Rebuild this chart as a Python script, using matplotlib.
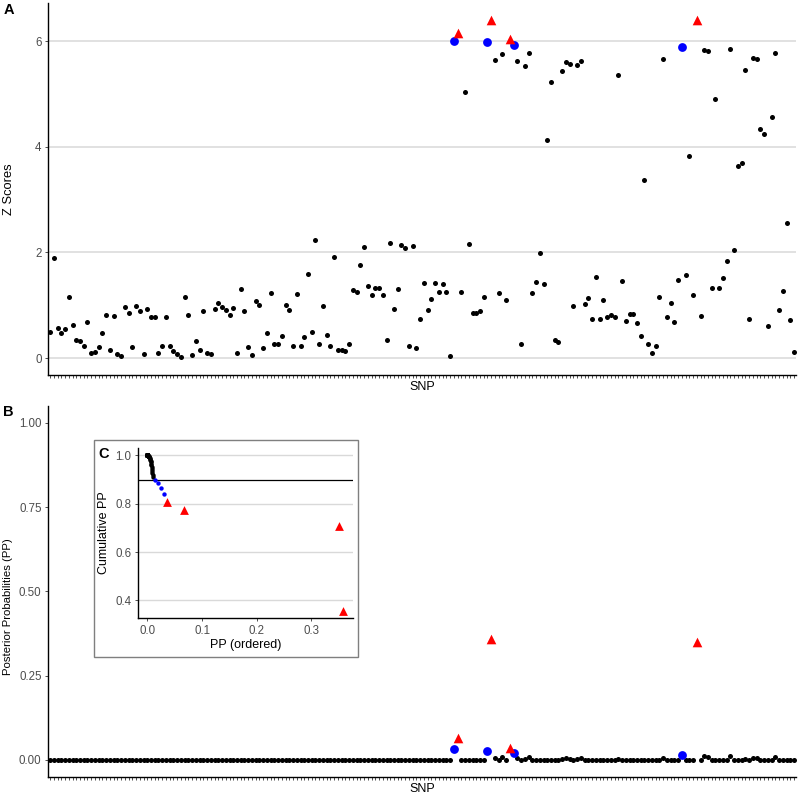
import matplotlib
matplotlib.use("Agg")
import matplotlib.pyplot as plt
import numpy as np
from matplotlib.patches import Rectangle

plt.rcParams["font.family"] = ["Liberation Sans", "DejaVu Sans"]

# Z scores for the 200 SNPs, read left to right
z_scores = [
    0.49, 1.90, 0.56, 0.47, 0.54, 1.15, 0.62, 0.34, 0.32, 0.23,
    0.68, 0.09, 0.12, 0.20, 0.47, 0.82, 0.15, 0.80, 0.08, 0.03,
    0.96, 0.86, 0.21, 0.98, 0.89, 0.08, 0.92, 0.77, 0.77, 0.09,
    0.22, 0.78, 0.23, 0.14, 0.07, 0.02, 1.15, 0.82, 0.05, 0.32,
    0.16, 0.89, 0.09, 0.08, 0.93, 1.05, 0.97, 0.90, 0.81, 0.94,
    0.09, 1.31, 0.89, 0.21, 0.05, 1.07, 1.01, 0.18, 0.47, 1.24,
    0.26, 0.26, 0.41, 1.00, 0.91, 0.23, 1.21, 0.22, 0.39, 1.59,
    0.50, 2.24, 0.27, 0.99, 0.44, 0.22, 1.91, 0.15, 0.15, 0.13,
    0.27, 1.28, 1.25, 1.77, 2.10, 1.37, 1.20, 1.32, 1.32, 1.19,
    0.34, 2.18, 0.92, 1.30, 2.14, 2.08, 0.22, 2.12, 0.18, 0.74,
    1.42, 0.91, 1.11, 1.42, 1.25, 1.40, 1.25, 0.04, 6.01, 6.15,
    1.25, 5.03, 2.16, 0.86, 0.85, 0.89, 1.15, 5.98, 6.40, 5.64,
    1.23, 5.76, 1.10, 6.03, 5.93, 5.63, 0.27, 5.53, 5.77, 1.24,
    1.44, 1.99, 1.41, 4.13, 5.23, 0.34, 0.30, 5.44, 5.61, 5.57,
    0.98, 5.54, 5.62, 1.03, 1.14, 0.73, 1.54, 0.74, 1.10, 0.78,
    0.81, 0.78, 5.35, 1.45, 0.70, 0.84, 0.83, 0.66, 0.42, 3.37,
    0.27, 0.09, 0.22, 1.15, 5.66, 0.77, 1.04, 0.69, 1.47, 5.89,
    1.57, 3.82, 1.20, 6.40, 0.80, 5.84, 5.82, 1.33, 4.91, 1.33,
    1.52, 1.83, 5.85, 2.04, 3.63, 3.69, 5.46, 0.74, 5.68, 5.66,
    4.34, 4.25, 0.61, 4.56, 5.78, 0.91, 1.26, 2.56, 0.72, 0.11,
]

# posterior probabilities for the same SNPs
pp = [
    0, 0, 0, 0, 0, 0, 0, 0, 0, 0, 0, 0, 0, 0, 0, 0, 0, 0, 0, 0,
    0, 0, 0, 0, 0, 0, 0, 0, 0, 0, 0, 0, 0, 0, 0, 0, 0, 0, 0, 0,
    0, 0, 0, 0, 0, 0, 0, 0, 0, 0, 0, 0, 0, 0, 0, 0, 0, 0, 0, 0,
    0, 0, 0, 0, 0, 0, 0, 0, 0, 0, 0, 0, 0, 0, 0, 0, 0, 0, 0, 0,
    0, 0, 0, 0, 0, 0, 0, 0, 0, 0, 0, 0, 0, 0, 0, 0, 0, 0, 0, 0,
    0, 0, 0, 0, 0, 0, 0, 0, 0.031, 0.066,
    0, 0.0005, 0, 0, 0, 0, 0, 0.025, 0.358, 0.006,
    0, 0.008, 0, 0.035, 0.019, 0.006, 0, 0.002, 0.009, 0,
    0, 0, 0, 0, 0.0005, 0, 0, 0.001, 0.004, 0.003,
    0, 0.002, 0.004, 0, 0, 0, 0, 0, 0, 0,
    0, 0, 0.001, 0, 0, 0, 0, 0, 0, 0,
    0, 0, 0, 0, 0.006, 0, 0, 0, 0, 0.014,
    0, 0, 0, 0.350, 0, 0.010, 0.009, 0, 0, 0,
    0, 0, 0.011, 0, 0, 0, 0.001, 0, 0.006, 0.004,
    0, 0, 0, 0, 0.008, 0, 0, 0, 0, 0,
]

red_snps = [109, 118, 123, 173]
blue_snps = [108, 117, 124, 169]

z = np.array(z_scores)
p = np.array(pp)
snp = np.arange(len(z))
black = np.ones(len(z), dtype=bool)
black[red_snps] = False
black[blue_snps] = False

GRID = "#D9D9D9"
TICKC = "#333333"
LABC = "#4D4D4D"


def classic(ax):
    for s in ["top", "right"]:
        ax.spines[s].set_visible(False)
    for s in ["left", "bottom"]:
        ax.spines[s].set_linewidth(1.0)
    ax.tick_params(axis="y", length=2.5, width=0.6, color=TICKC,
                   labelsize=8.3, labelcolor=LABC, pad=2)
    ax.set_axisbelow(True)


fig = plt.figure(figsize=(8, 7.97), dpi=100)

# panel A: z scores
axA = fig.add_axes([0.0598, 0.5296, 0.9355, 0.4666])
axA.scatter(snp[black], z[black], s=13, color="black", linewidths=0, zorder=3)
axA.scatter(snp[blue_snps], z[blue_snps], s=40, color="#0000FF", linewidths=0, zorder=4)
axA.scatter(snp[red_snps], z[red_snps], s=48, marker="^", color="#FF0000",
            linewidths=0, zorder=5)
zmax = z.max()
axA.set_ylim(-0.05 * zmax, 1.05 * zmax)
axA.set_xlim(-0.6, len(z) - 0.4)
axA.set_yticks([0, 2, 4, 6])
axA.set_yticklabels(["0", "2", "4", "6"])
axA.yaxis.grid(True, color=GRID, lw=1.1)
classic(axA)
axA.set_xticks(snp)
axA.set_xticklabels([])
axA.tick_params(axis="x", length=2.5, width=0.6, color=TICKC)
axA.set_xlabel("SNP", fontsize=9.0, labelpad=-1.5)
axA.set_ylabel("Z Scores", fontsize=9.3)
axA.yaxis.set_label_coords(-0.0435, 0.5)

# panel B: posterior probabilities
axB = fig.add_axes([0.0598, 0.0255, 0.9355, 0.4650])
axB.scatter(snp[black], p[black], s=13, color="black", linewidths=0, zorder=3)
axB.scatter(snp[blue_snps], p[blue_snps], s=40, color="#0000FF", linewidths=0, zorder=4)
axB.scatter(snp[red_snps], p[red_snps], s=48, marker="^", color="#FF0000",
            linewidths=0, zorder=5)
axB.set_ylim(-0.05, 1.05)
axB.set_xlim(-0.6, len(z) - 0.4)
axB.set_yticks([0, 0.25, 0.5, 0.75, 1.0])
axB.set_yticklabels(["0.00", "0.25", "0.50", "0.75", "1.00"])
classic(axB)
axB.set_xticks(snp)
axB.set_xticklabels([])
axB.tick_params(axis="x", length=2.5, width=0.6, color=TICKC)
axB.set_xlabel("SNP", fontsize=9.0, labelpad=-1.5)
axB.set_ylabel("Posterior Probabilities (PP)", fontsize=8.2)
axB.yaxis.set_label_coords(-0.0465, 0.46)

# inset C: cumulative PP of ordered SNPs
order = np.argsort(-p, kind="stable")
pp_sorted = p[order]
cum_pp = np.cumsum(pp_sorted)
is_red = np.isin(order, red_snps)
is_blue = np.isin(order, blue_snps)
is_black = ~(is_red | is_blue)

box = Rectangle((0.1175, 0.1753), 0.3296, 0.2730, transform=fig.transFigure,
                facecolor="white", edgecolor="#7F7F7F", lw=1.0, zorder=2)
fig.patches.append(box)

axC = fig.add_axes([0.1721, 0.2242, 0.2691, 0.2141])
axC.set_zorder(3)
axC.scatter(pp_sorted[is_black], cum_pp[is_black], s=10, color="black",
            linewidths=0, zorder=3)
axC.scatter(pp_sorted[is_blue], cum_pp[is_blue], s=10, color="#0000FF",
            linewidths=0, zorder=4)
axC.scatter(pp_sorted[is_red], cum_pp[is_red], s=40, marker="^", color="#FF0000",
            linewidths=0, zorder=5)
axC.axhline(0.9, color="black", lw=0.9, zorder=2)
xr = pp_sorted.max() - pp_sorted.min()
axC.set_xlim(pp_sorted.min() - 0.05 * xr, pp_sorted.max() + 0.05 * xr)
yr = cum_pp.max() - cum_pp.min()
axC.set_ylim(cum_pp.min() - 0.05 * yr, cum_pp.max() + 0.05 * yr)
axC.set_xticks([0, 0.1, 0.2, 0.3])
axC.set_xticklabels(["0.0", "0.1", "0.2", "0.3"])
axC.set_yticks([0.4, 0.6, 0.8, 1.0])
axC.set_yticklabels(["0.4", "0.6", "0.8", "1.0"])
axC.yaxis.grid(True, color=GRID, lw=1.0)
classic(axC)
axC.tick_params(axis="x", length=2.5, width=0.6, color=TICKC,
                labelsize=8.3, labelcolor=LABC, pad=2)
axC.set_xlabel("PP (ordered)", fontsize=9.0, labelpad=2)
axC.set_ylabel("Cumulative PP", fontsize=9.0)
axC.yaxis.set_label_coords(-0.13, 0.5)

fig.text(0.0106, 0.987, "A", fontsize=10.5, fontweight="bold", va="center", ha="center")
fig.text(0.0106, 0.483, "B", fontsize=10.5, fontweight="bold", va="center", ha="center")
fig.text(0.129, 0.430, "C", fontsize=10.5, fontweight="bold", va="center", ha="center")

fig.savefig("out.png", dpi=100)
